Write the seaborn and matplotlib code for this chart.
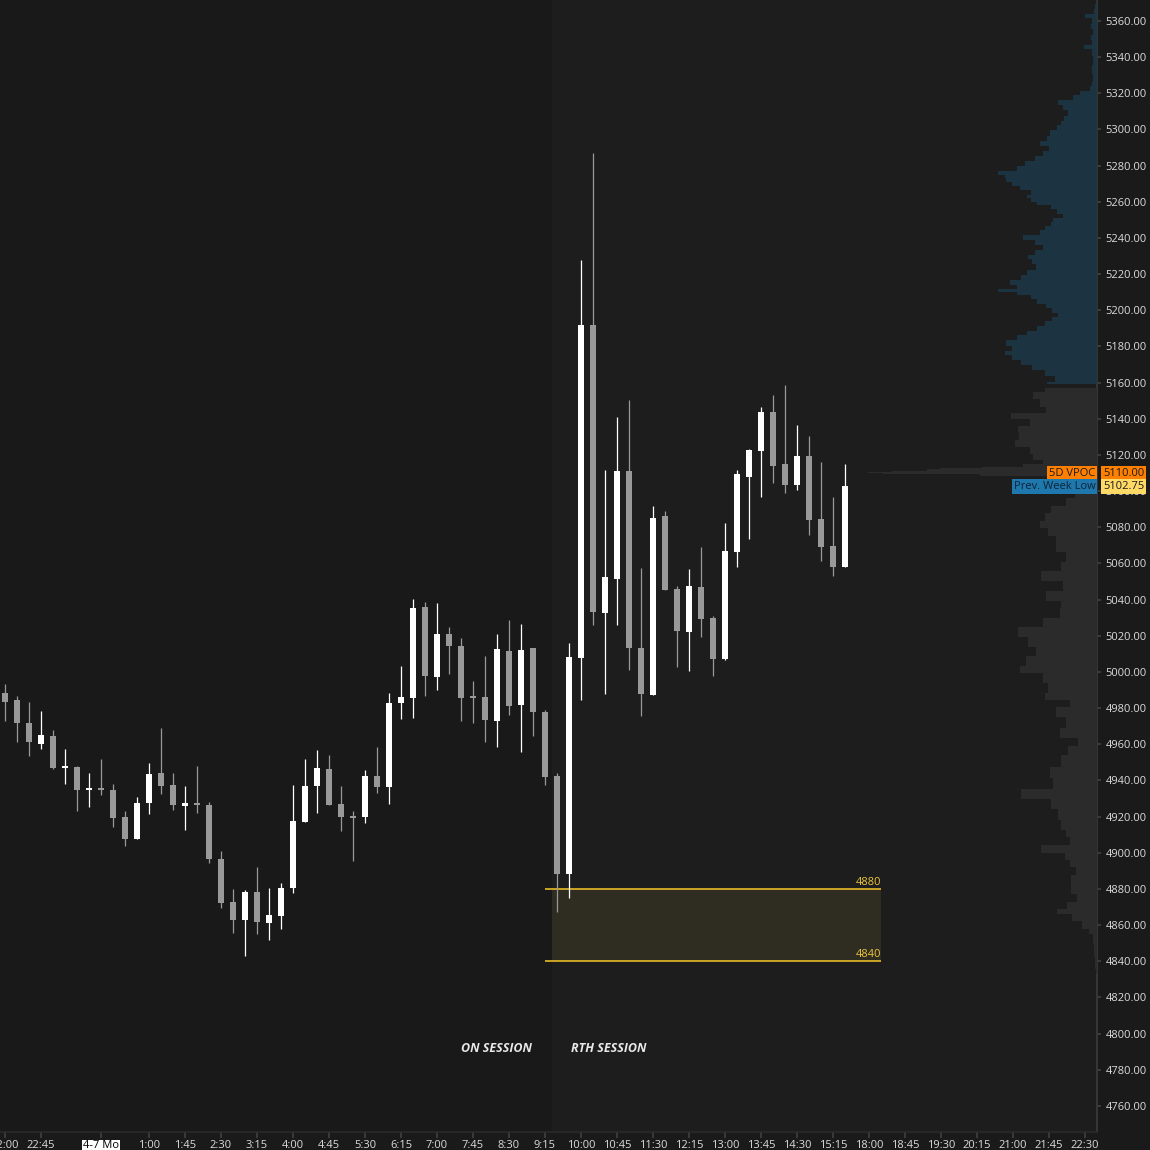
import numpy as np
import pandas as pd
import seaborn as sns
from matplotlib import pyplot as plt
from matplotlib import transforms

# 15 minute bars, 22:00 -> 15:30
opens = [4988.5, 4984.5, 4971.75, 4960.25, 4964.5, 4947, 4947.5, 4934.75, 4935.75, 4934.75,
         4919.75, 4907.75, 4927.75, 4944, 4937.5, 4926, 4927.5, 4926.5, 4896.5, 4872.75,
         4863, 4878.25, 4861.25, 4865.25, 4880.75, 4917, 4937, 4946.25, 4927, 4920,
         4919.75, 4942.5, 4936.5, 4982.75, 4985.5, 5036, 4997.25, 5021, 5014.5, 4986.25,
         4986.25, 4973, 5011.5, 4981.75, 5013.25, 4978, 4942.5, 4888, 5008, 5192,
         5032.75, 5051.5, 5111, 5013.25, 4987.5, 5086.25, 5046, 5022.25, 5047, 5029.75,
         5007.25, 5066.25, 5107.75, 5122.25, 5143.75, 5115, 5103.5, 5119.5, 5084.5, 5069.75,
         5058]
highs = [4993.5, 4986.75, 4983.5, 4978.5, 4968, 4957.5, 4948, 4944, 4952, 4938,
         4923, 4931, 4949.75, 4969, 4944, 4937, 4948, 4928, 4901, 4880,
         4879.5, 4892, 4880.5, 4883.25, 4937.5, 4952, 4956.75, 4954, 4937, 4923.25,
         4945.75, 4958.5, 4988.5, 5003.25, 5040.5, 5038.75, 5038, 5025, 5018.75, 4995,
         5008.75, 5021, 5028.75, 5026.5, 5013.5, 4979, 4944, 5016, 5227.75, 5286.75,
         5111.75, 5141, 5150.5, 5057.5, 5091.75, 5089, 5047.5, 5057, 5069, 5031,
         5082.5, 5111.75, 5123.25, 5146.5, 5153.25, 5158.75, 5136.5, 5130.5, 5116, 5096.75,
         5115]
lows = [4973, 4961.25, 4953.75, 4957.5, 4946.5, 4938.25, 4923.25, 4925.5, 4932, 4914.5,
        4904, 4907.75, 4921.5, 4932.75, 4923.75, 4912.75, 4922.25, 4894.5, 4869.5, 4855.75,
        4843, 4855.25, 4852, 4858, 4878, 4917, 4922.25, 4926.5, 4912.25, 4895.5,
        4916.5, 4933.25, 4927.25, 4974.25, 4974.75, 4986.75, 4990, 4999, 4973, 4972,
        4961.25, 4958.75, 4976.25, 4955.75, 4964.5, 4937.5, 4867.5, 4875.25, 4984.5, 5026,
        4988, 5026, 5001.25, 4975.75, 4987.5, 5045.5, 5003, 5000.75, 5019.5, 4997.5,
        5006.75, 5058, 5073.5, 5096.75, 5104.5, 5099, 5100.5, 5075.75, 5061.5, 5053,
        5058]
closes = [4983.5, 4972, 4961, 4965, 4947, 4947.5, 4935, 4935.25, 4934.5, 4919.5,
          4907.75, 4927.5, 4943.5, 4937, 4926.5, 4927.5, 4926.5, 4896.75, 4872.5, 4863,
          4878.25, 4862, 4865.5, 4880.5, 4917.5, 4937, 4947, 4926.5, 4919.75, 4919.5,
          4942.5, 4936.5, 4982.75, 4986.25, 5035.5, 4997.75, 5021, 5014.5, 4985.5, 4985.75,
          4973.5, 5012.75, 4981.25, 5012, 4978, 4942, 4888, 5008.25, 5192, 5033.25,
          5052.5, 5111, 5013.5, 4988, 5085, 5045.5, 5022.75, 5047.5, 5029.5, 5007.25,
          5067, 5109.5, 5122.75, 5143.75, 5114, 5103.5, 5119.5, 5084, 5069, 5058,
          5102.75]

time_labels = ['22:00', '22:45', '4-7 Mo', '1:00', '1:45', '2:30', '3:15', '4:00', '4:45', '5:30',
               '6:15', '7:00', '7:45', '8:30', '9:15', '10:00', '10:45', '11:30', '12:15', '13:00',
               '13:45', '14:30', '15:15', '18:00', '18:45', '19:30', '20:15', '21:00', '21:45', '22:30']
time_ticks = [0, 3, 8, 12, 15, 18, 21, 24, 27, 30,
              33, 36, 39, 42, 45, 48, 51, 54, 57, 60,
              63, 66, 69, 72, 75, 78, 81, 84, 87, 90]

# 5 day volume profile (price level, volume)
vp_levels = [5371, 5368, 5365, 5363, 5360, 5357, 5354, 5351, 5348, 5345.5,
             5343, 5338, 5333, 5328, 5325, 5323, 5320, 5318, 5315, 5312,
             5309, 5306, 5303.5, 5301, 5298, 5295, 5292, 5289.5, 5287, 5284,
             5281, 5278.5, 5276, 5274, 5272, 5270, 5268, 5265, 5263, 5261,
             5259, 5257.5, 5255, 5252, 5250, 5248, 5245.5, 5243, 5240, 5237.5,
             5235, 5232, 5229.5, 5227, 5224, 5221, 5218.5, 5215, 5213, 5211,
             5209, 5207.5, 5205, 5202, 5200, 5197.5, 5195, 5193, 5190, 5187.5,
             5185, 5182, 5179, 5176.5, 5174, 5171, 5168, 5165.5, 5161.5, 5159,
             5157, 5153, 5149, 5144.5, 5141.5, 5138.5, 5134, 5130, 5126.5, 5122.5,
             5118.5, 5116, 5114, 5113, 5112.25, 5111.75, 5111, 5110.5, 5110, 5109.25,
             5107, 5104, 5101, 5098.25, 5094, 5090, 5085.75, 5081.5, 5077.25, 5073,
             5068.75, 5063.5, 5058.25, 5053, 5047.75, 5041.5, 5037.25, 5033, 5026.75, 5022.5,
             5016, 5012, 5005.5, 5001.5, 4997.25, 4990.75, 4986.5, 4982.5, 4978.25, 4972,
             4965.5, 4961.25, 4957, 4950.75, 4944.5, 4938.25, 4932, 4927.5, 4921.25, 4915,
             4910.75, 4906.5, 4902.25, 4898, 4894, 4889.75, 4885.5, 4879.25, 4875, 4870.75,
             4867.5, 4864.5, 4860.25, 4856, 4854, 4845.5, 4839.25, 4832.75]
vp_volume = [1, 2, 3, 12, 5, 6, 4, 6, 5, 13,
             5, 4, 5, 4, 5, 7, 17, 24, 39, 34,
             29, 33, 36, 40, 47, 50, 57, 48, 54, 62,
             72, 80, 99, 92, 91, 85, 77, 66, 70, 66,
             60, 46, 40, 34, 44, 46, 52, 57, 74, 62,
             54, 62, 69, 65, 61, 70, 76, 87, 80, 99,
             80, 66, 60, 51, 45, 39, 45, 52, 60, 70,
             80, 91, 85, 92, 85, 76, 65, 52, 42, 50,
             52, 64, 57, 51, 86, 67, 79, 78, 82, 67,
             64, 54, 74, 115, 157, 170, 205, 229, 214, 117,
             40, 30, 25, 22, 31, 46, 52, 57, 49, 41,
             41, 31, 36, 56, 34, 51, 36, 37, 54, 79,
             69, 61, 71, 77, 54, 49, 52, 27, 41, 31,
             37, 19, 29, 36, 47, 44, 76, 46, 39, 36,
             31, 27, 56, 32, 27, 21, 26, 26, 20, 30,
             40, 25, 15, 8, 4, 3, 2, 1]
value_area_split = 5158

rth_start = 45.58
zone_low, zone_high = 4840, 4880
zone_end = 73
vpoc = 5110.0
last_price = closes[-1]

bars = pd.DataFrame({'open': opens, 'high': highs, 'low': lows, 'close': closes})
bars['idx'] = np.arange(len(bars))
bars['up'] = bars['close'] >= bars['open']
bars['color'] = np.where(bars['up'], '#ffffff', '#999999')

sns.set_theme(style='dark')
plt.rcParams['font.family'] = ['Open Sans', 'DejaVu Sans']

fig = plt.figure(figsize=(11.5, 11.5), dpi=100, facecolor='#1a1a1a')
ax = fig.add_axes([0, 18 / 1150, 1097 / 1150, 1132 / 1150])
ax.set_facecolor('#191919')
ax.set_xlim(-5 / 12, 91)
ax.set_ylim(4745.6, 5371.6)

# session shading + zone
ax.axvspan(rth_start, 91, color='#1d1d1d', lw=0, zorder=0)
ax.fill_between([rth_start, zone_end], zone_low, zone_high, color='#2f2c21', lw=0, zorder=1)
ax.hlines([zone_low, zone_high], 45, zone_end, color='#f7c825', lw=1.1, zorder=2)
for lvl in (zone_high, zone_low):
    ax.text(zone_end, lvl + 0.8, str(lvl), ha='right', va='bottom', fontsize=8,
            color='#ecc640', zorder=2)

# candles
ax.vlines(bars['idx'], bars['low'], bars['high'], colors=bars['color'], lw=0.9, zorder=3)
body = (bars['close'] - bars['open']).abs().clip(lower=1.0)
ax.bar(bars['idx'], body, bottom=bars[['open', 'close']].min(axis=1), width=0.58,
       color=bars['color'], lw=0, zorder=4)

ax.text(43.9, 4792, 'ON SESSION', ha='right', va='center', fontsize=9, style='italic',
        fontweight='bold', color='#e8e8e8')
ax.text(47.2, 4792, 'RTH SESSION', ha='left', va='center', fontsize=9, style='italic',
        fontweight='bold', color='#e8e8e8')

# axes styling
for side in ('top', 'left'):
    ax.spines[side].set_visible(False)
ax.spines['right'].set_color('#3a3a3a')
ax.spines['bottom'].set_color('#2a2a2a')
ax.grid(False)
ax.yaxis.tick_right()
price_ticks = np.arange(4760, 5361, 20)
ax.set_yticks(price_ticks)
ax.set_yticklabels([f'{p:.2f}' for p in price_ticks])
ax.set_xticks(time_ticks)
ax.set_xticklabels(time_labels)
ax.tick_params(axis='y', labelsize=8, labelcolor='#dcdcdc', color='#404040', length=3, pad=3)
ax.tick_params(axis='x', labelsize=8, labelcolor='#dcdcdc', color='#404040', length=4, pad=2)
date_lbl = ax.get_xticklabels()[2]
date_lbl.set_color('#000000')
date_lbl.set_bbox(dict(facecolor='#ffffff', edgecolor='none', pad=0.6))

# volume profile on its own x scale, 0 at the price axis
vp = ax.twiny()
vp.set_xlim(1097, 0)
vp.xaxis.set_visible(False)
vp.patch.set_visible(False)
for s in vp.spines.values():
    s.set_visible(False)
lv = np.array(vp_levels)
vv = np.array(vp_volume)
hi = lv >= value_area_split
vp.fill_betweenx(lv[hi], 0, vv[hi], step='mid', color='#1c3441', lw=0)
vp.fill_betweenx(lv[~hi], 0, vv[~hi], step='mid', color='#2b2b2b', lw=0)

trans = transforms.blended_transform_factory(vp.transAxes, vp.transData)
box = dict(boxstyle='square,pad=0.18', edgecolor='none')
vp.text(0.9985, vpoc, '5D VPOC', transform=trans, ha='right', va='center', fontsize=8,
        color='#1a1a1a', bbox={**box, 'facecolor': '#ff8000'}, zorder=6)
vp.text(1.0055, vpoc, f'{vpoc:.2f}', transform=trans, ha='left', va='center', fontsize=8,
        color='#1a1a1a', bbox={**box, 'facecolor': '#ff8000'}, zorder=6, clip_on=False)
vp.text(0.9985, last_price, 'Prev. Week Low', transform=trans, ha='right', va='center',
        fontsize=8, color='#0e2233', bbox={**box, 'facecolor': '#1f78ad'}, zorder=6)
vp.text(1.0055, last_price, f'{last_price:.2f}', transform=trans, ha='left', va='center',
        fontsize=8, color='#1a1a1a', bbox={**box, 'facecolor': '#ffd966'}, zorder=6,
        clip_on=False)

fig.savefig('out.png', dpi=100, facecolor=fig.get_facecolor())
